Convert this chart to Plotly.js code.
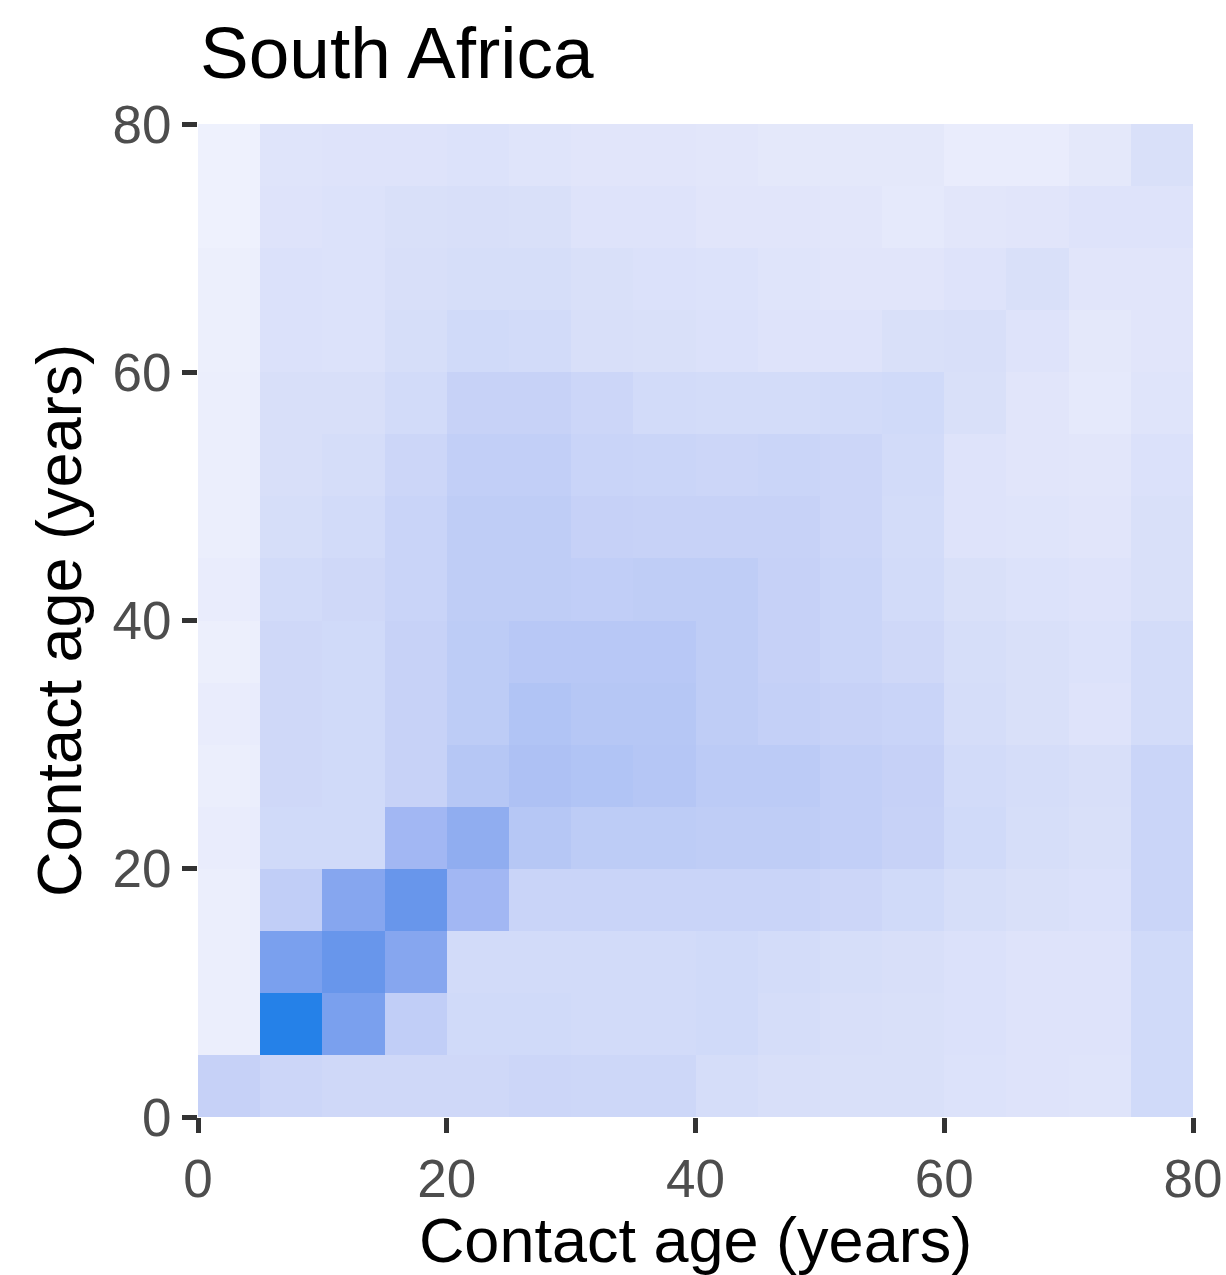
<!DOCTYPE html>
<html>
<head>
<meta charset="utf-8">
<script src="https://cdn.plot.ly/plotly-3.0.1.min.js"></script>
<style>
  html, body { margin: 0; padding: 0; background: #ffffff; }
  #chart { width: 1226px; height: 1275px; }
</style>
</head>
<body>
<div id="chart"></div>
<script>
// Five-year age bands (bin midpoints) for participant age (x) and contact age (y)
const ageMid = [2.5, 7.5, 12.5, 17.5, 22.5, 27.5, 32.5, 37.5, 42.5, 47.5, 52.5, 57.5, 62.5, 67.5, 72.5, 77.5];
const tickValues = [0, 20, 40, 60, 80];
const tickLabels = ['0', '20', '40', '60', '80'];

// Relative contact intensity, one array per contact-age band (values across participant age bands)
const contact00to05 = [0.29, 0.25, 0.23, 0.23, 0.23, 0.25, 0.24, 0.24, 0.19, 0.17, 0.16, 0.16, 0.14, 0.13, 0.12, 0.22];
const contact05to10 = [0.05, 1.00, 0.72, 0.32, 0.22, 0.22, 0.21, 0.21, 0.22, 0.19, 0.17, 0.16, 0.15, 0.13, 0.13, 0.22];
const contact10to15 = [0.05, 0.72, 0.80, 0.66, 0.21, 0.21, 0.21, 0.21, 0.22, 0.20, 0.18, 0.17, 0.15, 0.13, 0.13, 0.22];
const contact15to20 = [0.05, 0.32, 0.66, 0.80, 0.50, 0.27, 0.27, 0.27, 0.27, 0.27, 0.25, 0.22, 0.18, 0.16, 0.15, 0.26];
const contact20to25 = [0.06, 0.22, 0.22, 0.50, 0.60, 0.38, 0.34, 0.34, 0.33, 0.33, 0.31, 0.28, 0.22, 0.18, 0.16, 0.26];
const contact25to30 = [0.05, 0.23, 0.22, 0.28, 0.38, 0.43, 0.41, 0.39, 0.35, 0.35, 0.31, 0.29, 0.21, 0.19, 0.17, 0.26];
const contact30to35 = [0.06, 0.23, 0.22, 0.28, 0.34, 0.41, 0.38, 0.38, 0.33, 0.30, 0.28, 0.27, 0.19, 0.16, 0.13, 0.20];
const contact35to40 = [0.04, 0.23, 0.22, 0.28, 0.34, 0.37, 0.37, 0.37, 0.33, 0.29, 0.26, 0.23, 0.18, 0.16, 0.14, 0.20];
const contact40to45 = [0.06, 0.21, 0.23, 0.27, 0.33, 0.33, 0.32, 0.33, 0.33, 0.29, 0.26, 0.21, 0.16, 0.14, 0.13, 0.16];
const contact45to50 = [0.05, 0.18, 0.21, 0.27, 0.33, 0.33, 0.29, 0.28, 0.28, 0.28, 0.25, 0.20, 0.13, 0.12, 0.11, 0.16];
const contact50to55 = [0.05, 0.17, 0.19, 0.25, 0.31, 0.31, 0.27, 0.26, 0.25, 0.26, 0.25, 0.21, 0.13, 0.11, 0.10, 0.15];
const contact55to60 = [0.05, 0.17, 0.17, 0.21, 0.28, 0.28, 0.25, 0.21, 0.20, 0.20, 0.21, 0.22, 0.16, 0.11, 0.08, 0.12];
const contact60to65 = [0.04, 0.15, 0.14, 0.18, 0.22, 0.21, 0.17, 0.16, 0.15, 0.13, 0.13, 0.16, 0.17, 0.13, 0.09, 0.11];
const contact65to70 = [0.04, 0.15, 0.14, 0.17, 0.18, 0.18, 0.16, 0.15, 0.14, 0.12, 0.11, 0.11, 0.13, 0.16, 0.11, 0.11];
const contact70to75 = [0.03, 0.13, 0.14, 0.16, 0.17, 0.16, 0.13, 0.13, 0.11, 0.11, 0.10, 0.08, 0.10, 0.11, 0.13, 0.13];
const contact75to80 = [0.03, 0.12, 0.13, 0.13, 0.14, 0.12, 0.11, 0.11, 0.10, 0.09, 0.09, 0.09, 0.06, 0.06, 0.09, 0.16];

const zMatrix = [
  contact00to05, contact05to10, contact10to15, contact15to20,
  contact20to25, contact25to30, contact30to35, contact35to40,
  contact40to45, contact45to50, contact50to55, contact55to60,
  contact60to65, contact65to70, contact70to75, contact75to80
];

// Pale lavender to saturated blue
const blueScale = [
  [0.0, '#f3f5fe'], [0.1, '#e2e6fa'], [0.2, '#d3dcf9'], [0.3, '#c4d0f7'],
  [0.4, '#b3c5f5'], [0.5, '#a2b7f3'], [0.6, '#90adf0'], [0.7, '#7fa2ef'],
  [0.8, '#6896eb'], [1.0, '#2581e8']
];

const fontFamily = '"Liberation Sans", Arial, Helvetica, sans-serif';

const trace = {
  type: 'heatmap',
  x: ageMid,
  y: ageMid,
  z: zMatrix,
  colorscale: blueScale,
  zmin: 0,
  zmax: 1,
  showscale: false,
  hoverinfo: 'x+y+z'
};

const axisCommon = {
  range: [0, 80],
  tickmode: 'array',
  tickvals: tickValues,
  ticktext: tickLabels,
  ticks: 'outside',
  ticklen: 15,
  tickwidth: 5,
  tickcolor: '#333333',
  tickfont: { family: fontFamily, size: 53, color: '#4d4d4d' },
  showgrid: false,
  zeroline: false,
  showline: false,
  fixedrange: true
};

const layout = {
  width: 1226,
  height: 1275,
  margin: { l: 198, r: 33, t: 124, b: 158 },
  paper_bgcolor: '#ffffff',
  plot_bgcolor: '#ffffff',
  font: { family: fontFamily, color: '#000000' },
  title: {
    text: 'South Africa',
    font: { family: fontFamily, size: 73, color: '#000000' },
    xref: 'container',
    yref: 'container',
    x: 200 / 1226,
    xanchor: 'left',
    y: 1 - 52 / 1275,
    yanchor: 'middle'
  },
  xaxis: Object.assign({}, axisCommon, {
    title: { text: 'Contact age (years)', font: { family: fontFamily, size: 63, color: '#000000' }, standoff: 10 }
  }),
  yaxis: Object.assign({}, axisCommon, {
    title: { text: 'Contact age (years)', font: { family: fontFamily, size: 63, color: '#000000' }, standoff: 10 }
  })
};

Plotly.newPlot('chart', [trace], layout, { displayModeBar: false, staticPlot: true });
</script>
</body>
</html>
